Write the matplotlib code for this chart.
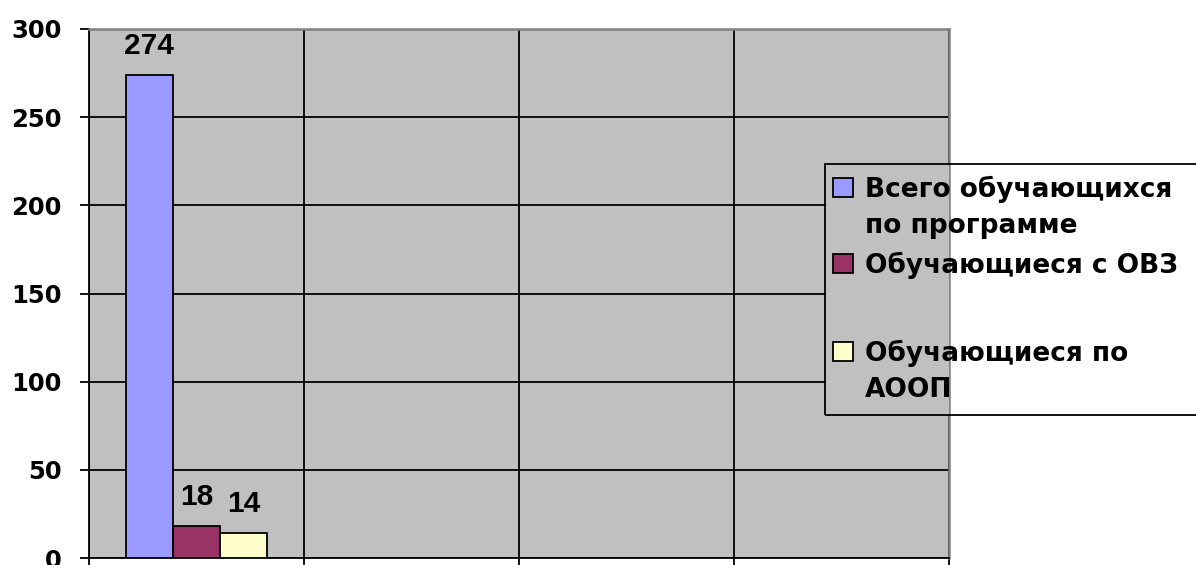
import matplotlib
matplotlib.use('Agg')

import matplotlib.pyplot as plt
from matplotlib.patches import Rectangle

# === Data ===
n_slots = 4  # category slots on the x axis (only the first one has values)
series_names = ["Всего обучающихся\nпо программе", "Обучающиеся с ОВЗ", "Обучающиеся по\nАООП"]
series_values = [274, 18, 14]
series_colors = ["#9999FF", "#993366", "#FFFFCC"]
y_ticks = [0, 50, 100, 150, 200, 250, 300]

plt.rcParams['font.family'] = ['Liberation Sans', 'DejaVu Sans']
plt.rcParams['font.weight'] = 'bold'
WIDE = ['DejaVu Sans']  # the reference's tick/legend text looks horizontally stretched

W, H = 1196, 565
fig = plt.figure(figsize=(W / 100, H / 100), dpi=100)


def fx(x):
    return x / W


def fy(y):
    return 1 - y / H


# plot area in pixel coords: left 89, right 949, top 29, bottom 558
ax = fig.add_axes([fx(89), fy(558), (949 - 89) / W, (558 - 29) / H])
ax.set_facecolor("#C0C0C0")

bar_w = 0.22
offsets = [-bar_w, 0, bar_w]
for val, off, col in zip(series_values, offsets, series_colors):
    ax.bar(off, val, width=bar_w, color=col, edgecolor="black", linewidth=1.3, zorder=3)
    ax.annotate(str(val), (off, val), xytext=(0, 11), textcoords="offset points",
                ha="center", va="bottom", fontsize=21.5, fontweight="bold")

# === Axes style ===
ax.set_xlim(-0.5, n_slots - 0.5)
ax.set_ylim(0, 300)
ax.set_yticks(y_ticks)
ax.set_xticks([i - 0.5 for i in range(n_slots + 1)])
ax.set_xticklabels([])
ax.tick_params(axis="y", length=6.5, width=1.3, pad=13)
ax.tick_params(axis="x", length=8, width=1.3)
for lab in ax.get_yticklabels():
    lab.set_fontweight("bold")
    lab.set_family(WIDE)
    lab.set_fontsize(17.5)
ax.grid(True, color="black", linewidth=1.3, zorder=1)
ax.set_axisbelow(True)
ax.spines["left"].set_linewidth(1.3)
ax.spines["bottom"].set_linewidth(1.3)
for s in ("top", "right"):
    ax.spines[s].set_color("#808080")
    ax.spines[s].set_linewidth(1.8)

# === Legend (drawn by hand, Excel-like) ===
leg_top, leg_bot = 164, 415
fig.add_artist(Rectangle((fx(826), fy(leg_bot)), fx(949) - fx(826), fy(leg_top) - fy(leg_bot),
                         transform=fig.transFigure, facecolor="#C0C0C0", edgecolor="none", zorder=1))
fig.add_artist(Rectangle((fx(825), fy(leg_bot)), fx(1205) - fx(825), fy(leg_top) - fy(leg_bot),
                         transform=fig.transFigure, facecolor="none", edgecolor="black",
                         linewidth=1.3, zorder=2, clip_on=False))
entry_base = [197, 273, 361]
line_step = 36
for name, col, yb in zip(series_names, series_colors, entry_base):
    fig.add_artist(Rectangle((fx(833), fy(yb)), fx(853) - fx(833), fy(yb - 19) - fy(yb),
                             transform=fig.transFigure, facecolor=col, edgecolor="black",
                             linewidth=1.3, zorder=3))
    for i, line in enumerate(name.split("\n")):
        fig.text(fx(865), fy(yb + i * line_step), line, fontsize=19, fontweight="bold",
                 family=WIDE, ha="left", va="baseline", zorder=3)

plt.savefig("out.png", dpi=100)
